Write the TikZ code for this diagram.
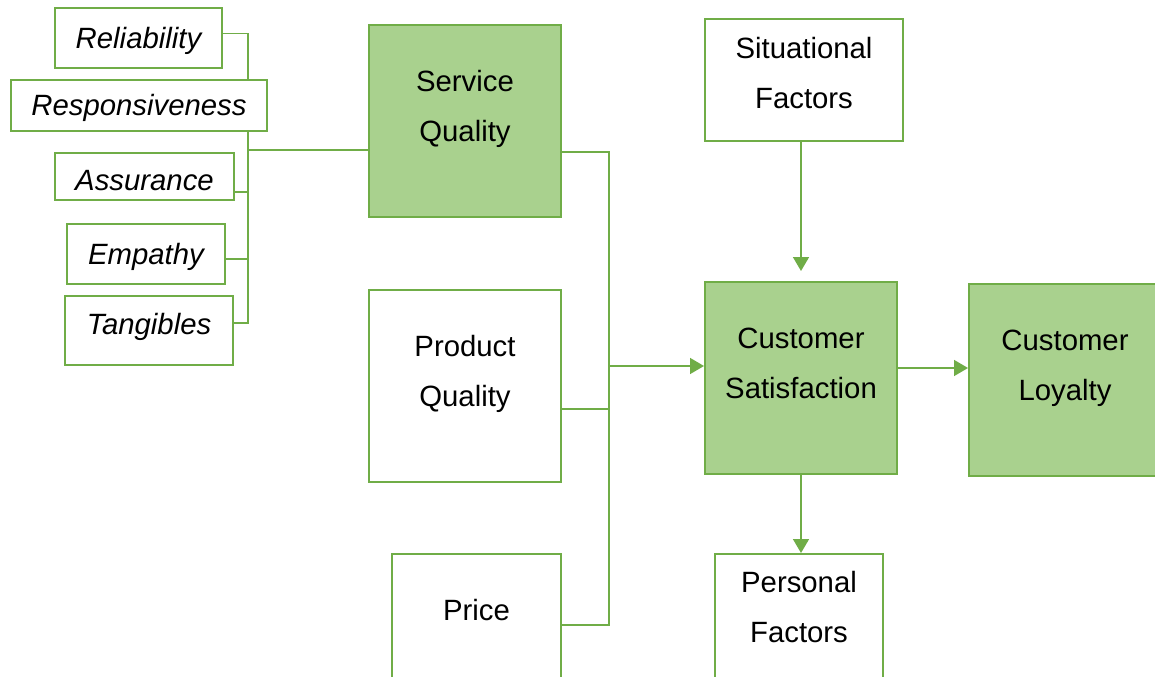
\documentclass[tikz,border=0pt]{standalone}
\usepackage{fontspec}
\setmainfont{Liberation Sans}
\usetikzlibrary{arrows.meta}
\definecolor{lgreen}{HTML}{70AD47}
\definecolor{pgreen}{HTML}{A9D18E}
\newcommand{\boxfont}{\fontsize{22pt}{37.5pt}\selectfont}
\tikzset{box/.style={draw=lgreen, line width=1.5pt, fill=white, inner sep=0pt}}
\tikzset{gbox/.style={box, fill=pgreen}}
\tikzset{dim/.style={box, font=\boxfont\itshape, text height=20pt, text depth=4.6pt}}
\tikzset{sz/.style 2 args={minimum width=#1*0.75pt, minimum height=#2*0.75pt}}
\tikzset{txt/.style={align=center, inner sep=0pt}}
\tikzset{link/.style={draw=lgreen, line width=1.2pt}}
\tikzset{arc/.style={link, -{Triangle[length=10.5pt,width=12pt]}}}

\begin{document}
\begin{tikzpicture}[x=0.75pt, y=-0.75pt, font=\boxfont]
\useasboundingbox (0,0) rectangle (1155,677);
\clip (0,0) rectangle (1155,677);

%dimensions of service quality
\node (rel) at (138.5,38)[dim, sz={167}{60}]{Reliability};
\node (resp) at (139,105.5)[dim, sz={256}{51}]{Responsiveness};
\node (assu) at (144.5,176.5)[dim, sz={179}{47}, text height=21pt, text depth=0pt]{Assurance};
\node (emp) at (146,254)[dim, sz={158}{60}]{Empathy};
\node (tang) at (149,330.5)[dim, sz={168}{69}, text depth=13.6pt]{Tangibles};

%drivers
\node (sq) at (465,121)[gbox, sz={192}{192}]{};
\node (sqt) at (465,109)[txt]{Service\\Quality};
\node (pq) at (465,386)[box, sz={192}{192}]{};
\node (pqt) at (465,374)[txt]{Product\\Quality};
\node (price) at (476.5,650)[box, sz={169}{192}]{};
\node (pricet) at (476.5,610)[txt]{Price};

%satisfaction and loyalty
\node (sit) at (804,80)[box, sz={198}{122}]{};
\node (sitt) at (804,73)[txt]{Situational\\Factors};
\node (cs) at (801,378)[gbox, sz={192}{192}]{};
\node (cst) at (801,363)[txt]{Customer\\Satisfaction};
\node (cl) at (1065,380)[gbox, sz={192}{192}]{};
\node (clt) at (1065,368)[txt]{Customer\\Loyalty};
\node (pers) at (799,650)[box, sz={168}{192}]{};
\node (perst) at (799,607)[txt]{Personal\\Factors};

\coordinate (hub) at (248,150);
\coordinate (bus) at (609,366);

\draw[link] ([yshift=3.4pt]rel.east) -| (resp.north -| hub);
\draw[link] (resp.south -| hub) |- ([yshift=5.6pt]tang.east);
\draw[link] ([yshift=-11.6pt]assu.east) -- ([yshift=-11.6pt]assu.east -| hub);
\draw[link] ([yshift=-3.75pt]emp.east) -- ([yshift=-3.75pt]emp.east -| hub);
\draw[link] (hub) -- (hub -| sq.west);

\draw[link] ([yshift=-23.25pt]sq.east) -| (bus);
\draw[link] ([yshift=-17.25pt]pq.east) -- ([yshift=-17.25pt]pq.east -| bus);
\draw[link] ([yshift=18.75pt]price.east) -| (bus);
\draw[arc] (bus) -- (bus -| cs.west);

\draw[arc] (sit.south -| cs.north) -- ([yshift=7.5pt]cs.north);
\draw[arc] ([yshift=7.5pt]cs.east) -- ([yshift=7.5pt]cs.east -| cl.west);
\draw[arc] (cs.south) -- (cs.south |- pers.north);

\end{tikzpicture}
\end{document}
